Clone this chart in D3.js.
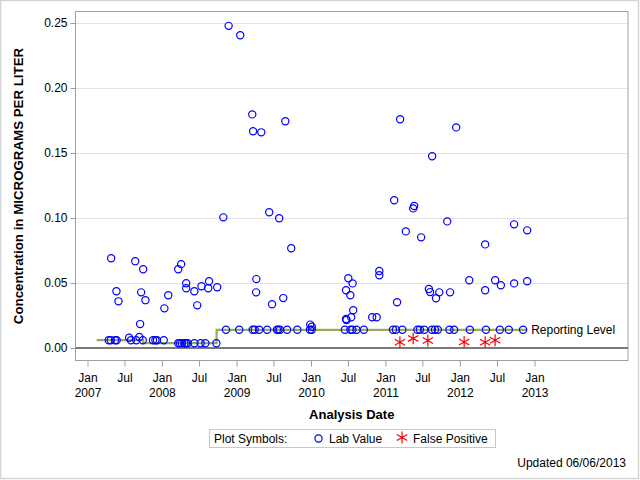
<!DOCTYPE html>
<html>
<head>
<meta charset="utf-8">
<script src="https://cdn.jsdelivr.net/npm/d3@7"></script>
<style>
  html, body { margin: 0; padding: 0; background: #fff; }
  svg { display: block; font-family: "Liberation Sans", Arial, sans-serif; }
</style>
</head>
<body>
<svg id="chart" width="640" height="480"></svg>
<script>
// ---------- DATA ----------
const labDates = [
  "2007-04-15","2007-04-25","2007-04-27","2007-05-16","2007-05-23","2007-05-24","2007-06-02",
  "2007-07-24","2007-08-02","2007-08-23","2007-08-28","2007-09-12","2007-09-16","2007-09-21",
  "2007-09-29","2007-10-01","2007-10-12","2007-11-18","2007-11-30","2007-12-08",
  "2008-01-10","2008-01-13","2008-02-01","2008-03-21","2008-03-21","2008-03-29","2008-04-04",
  "2008-04-08","2008-04-20","2008-04-28","2008-04-29","2008-04-29","2008-05-06","2008-06-08",
  "2008-06-08","2008-06-22","2008-07-09","2008-07-13","2008-08-01","2008-08-15","2008-08-19",
  "2008-09-24","2008-09-28","2008-10-28","2008-11-10","2008-11-23",
  "2009-01-14","2009-01-19","2009-03-19","2009-03-21","2009-03-23","2009-03-31","2009-04-07",
  "2009-04-08","2009-04-22","2009-05-02","2009-05-31","2009-06-10","2009-06-24","2009-07-18",
  "2009-07-25","2009-07-29","2009-08-02","2009-08-18","2009-08-28","2009-09-06","2009-09-26",
  "2009-10-26","2009-12-27","2009-12-28",
  "2010-01-05","2010-01-05","2010-06-16","2010-06-22","2010-06-22","2010-06-24","2010-07-03",
  "2010-07-13","2010-07-13","2010-07-17","2010-07-23","2010-07-24","2010-07-27","2010-08-12",
  "2010-09-17","2010-10-28","2010-11-19","2010-12-02","2010-12-02",
  "2011-02-07","2011-02-13","2011-02-21","2011-02-27","2011-03-14","2011-03-25","2011-04-11",
  "2011-05-17","2011-05-22","2011-06-07","2011-06-19","2011-06-25","2011-07-11","2011-08-02",
  "2011-08-08","2011-08-17","2011-08-18","2011-09-01","2011-09-06","2011-09-15","2011-09-22",
  "2011-10-31","2011-11-11","2011-11-14","2011-12-04","2011-12-14",
  "2012-02-16","2012-02-19","2012-05-04","2012-05-04","2012-05-08","2012-06-22","2012-07-15",
  "2012-07-20","2012-08-28","2012-09-23","2012-09-23","2012-11-06","2012-11-26","2012-11-26"
];
const labValues = [
  0.006,0.006,0.069,0.006,0.0436,0.006,0.0359,
  0.0079,0.006,0.0668,0.006,0.0085,0.0184,0.0428,
  0.006,0.0606,0.0368,0.006,0.006,0.006,
  0.006,0.0305,0.0406,0.0037,0.0606,0.0037,0.0645,
  0.0037,0.0037,0.0037,0.0498,0.046,0.0037,0.0037,
  0.0436,0.0328,0.0037,0.0475,0.0037,0.0459,0.0514,
  0.0037,0.0467,0.1005,0.014,0.2478,
  0.014,0.2406,0.1797,0.014,0.1667,0.014,0.0428,
  0.053,0.014,0.1659,0.014,0.1044,0.0337,0.014,
  0.014,0.0998,0.014,0.0384,0.1744,0.014,0.0767,
  0.014,0.014,0.018,
  0.014,0.0163,0.014,0.0444,0.0223,0.0215,0.0536,
  0.014,0.0406,0.0237,0.014,0.0497,0.029,0.014,
  0.014,0.0237,0.0237,0.0592,0.056,
  0.014,0.1137,0.014,0.0352,0.176,0.014,0.0897,
  0.1074,0.1092,0.014,0.014,0.0851,0.014,0.0454,
  0.043,0.014,0.1475,0.014,0.0383,0.014,0.0428,
  0.0974,0.014,0.0428,0.014,0.1697,
  0.0521,0.014,0.0797,0.0444,0.014,0.0521,0.014,
  0.0483,0.014,0.0951,0.0497,0.014,0.0905,0.0513
];
const fpDates  = ["2011-03-13","2011-05-17","2011-07-28","2012-01-22","2012-05-04","2012-06-22"];
const fpValues = [0.0044,0.0074,0.0058,0.0046,0.0044,0.0059];

const rlDates  = ["2007-02-15","2007-10-01","2008-09-25","2012-11-26"];
const rlValues = [0.006,0.0037,0.014,0.014];

const yTicks = [0, 0.05, 0.10, 0.15, 0.20, 0.25];
const xTickDates = ["2007-01-01","2007-07-01","2008-01-01","2008-07-01","2009-01-01","2009-07-01",
  "2010-01-01","2010-07-01","2011-01-01","2011-07-01","2012-01-01","2012-07-01","2013-01-01"];
const xTickLabels = [["Jan","2007"],["Jul"],["Jan","2008"],["Jul"],["Jan","2009"],["Jul"],
  ["Jan","2010"],["Jul"],["Jan","2011"],["Jul"],["Jan","2012"],["Jul"],["Jan","2013"]];

const yTitle = "Concentration in MICROGRAMS PER LITER";
const xTitle = "Analysis Date";
const legendTitle = "Plot Symbols:";
const legendLab = "Lab Value";
const legendFP = "False Positive";
const rlLabel = "Reporting Level";
const footnote = "Updated 06/06/2013";

// ---------- DRAW ----------
const parse = d3.timeParse("%Y-%m-%d");
const svg = d3.select("#chart");
const W = 640, H = 480;
const frame = {l: 75.5, t: 11.5, r: 628, b: 360.5};

svg.append("rect").attr("x",0).attr("y",0).attr("width",W).attr("height",H).attr("fill","#fff");
svg.append("rect").attr("x",0.5).attr("y",0.5).attr("width",W-2).attr("height",H-2)
  .attr("fill","none").attr("stroke","#d4d4d4").attr("stroke-width",1.5);

const x = d3.scaleTime()
  .domain([parse("2007-01-01"), parse("2013-01-01")])
  .range([87.5, 534.5]);
const y = d3.scaleLinear().domain([0, 0.25]).range([348, 23]);

// gridlines
svg.append("g").selectAll("line").data(yTicks.filter(d => d > 0)).join("line")
  .attr("x1", frame.l).attr("x2", frame.r)
  .attr("y1", d => Math.round(y(d)) + 0.5).attr("y2", d => Math.round(y(d)) + 0.5)
  .attr("stroke", "#e3e3e3").attr("stroke-width", 1);

// frame
svg.append("rect").attr("x", frame.l).attr("y", frame.t)
  .attr("width", frame.r - frame.l).attr("height", frame.b - frame.t)
  .attr("fill", "none").attr("stroke", "#a0a0a0").attr("stroke-width", 1);

// y axis
const yAxis = svg.append("g").attr("transform", `translate(${frame.l},0)`)
  .call(d3.axisLeft(y).tickValues(yTicks).tickFormat(d3.format(".2f")).tickSize(5).tickPadding(3));
yAxis.select(".domain").remove();
yAxis.selectAll(".tick line").attr("stroke", "#a0a0a0");
yAxis.selectAll(".tick text").attr("font-size", 12).attr("fill", "#000")
  .attr("font-family", '"Liberation Sans", Arial, sans-serif');

// x axis
const xAxis = svg.append("g").attr("transform", `translate(0,${frame.b})`)
  .call(d3.axisBottom(x).tickValues(xTickDates.map(parse)).tickSize(6).tickFormat(""));
xAxis.select(".domain").remove();
xAxis.selectAll(".tick line").attr("stroke", "#a0a0a0");
xAxis.selectAll(".tick").each(function(d, i) {
  const t = d3.select(this).append("text")
    .attr("fill", "#000").attr("font-size", 12).attr("text-anchor", "middle")
    .attr("font-family", '"Liberation Sans", Arial, sans-serif');
  xTickLabels[i].forEach((s, k) => {
    t.append("tspan").attr("x", 0).attr("y", 21 + k * 15.5).text(s);
  });
});

// zero reference line
svg.append("line").attr("x1", frame.l).attr("x2", frame.r)
  .attr("y1", y(0)).attr("y2", y(0))
  .attr("stroke", "#7a7a7a").attr("stroke-width", 2);

// reporting level step line
const rl = rlDates.map((d, i) => ({date: parse(d), v: rlValues[i]}));
svg.append("path").datum(rl)
  .attr("d", d3.line().x(d => x(d.date)).y(d => y(d.v)).curve(d3.curveStepAfter))
  .attr("fill", "none").attr("stroke", "#94ad5c").attr("stroke-width", 2.2);

svg.append("text").attr("x", x(rl[rl.length - 1].date) + 4).attr("y", y(0.014) + 4.5)
  .attr("font-size", 12).attr("fill", "#000").text(rlLabel);

// lab values
const lab = labDates.map((d, i) => ({date: parse(d), v: labValues[i]}));
svg.append("g").selectAll("circle").data(lab).join("circle")
  .attr("cx", d => x(d.date)).attr("cy", d => y(d.v)).attr("r", 3.6)
  .attr("fill", "none").attr("stroke", "#0000ff").attr("stroke-width", 1.2);

// false positives
const fp = fpDates.map((d, i) => ({date: parse(d), v: fpValues[i]}));
const star = d3.symbol().type(d3.symbolAsterisk).size(100);
svg.append("g").selectAll("path").data(fp).join("path")
  .attr("transform", d => `translate(${x(d.date)},${y(d.v)})`)
  .attr("d", star).attr("fill", "none").attr("stroke", "#ff0000").attr("stroke-width", 1.2);

// axis titles
svg.append("text").attr("transform", `translate(23,${(frame.t + frame.b) / 2}) rotate(-90)`)
  .attr("text-anchor", "middle").attr("font-size", 13.3).attr("font-weight", "bold")
  .attr("fill", "#000").text(yTitle);
svg.append("text").attr("x", (frame.l + frame.r) / 2).attr("y", 419)
  .attr("text-anchor", "middle").attr("font-size", 13).attr("font-weight", "bold")
  .attr("fill", "#000").text(xTitle);

// legend
const lg = svg.append("g");
lg.append("rect").attr("x", 209.5).attr("y", 429.5).attr("width", 286).attr("height", 18)
  .attr("fill", "#fff").attr("stroke", "#c8c8c8");
lg.append("text").attr("x", 214).attr("y", 443).attr("font-size", 12).attr("fill", "#000").text(legendTitle);
lg.append("circle").attr("cx", 318.5).attr("cy", 438.5).attr("r", 3.6)
  .attr("fill", "none").attr("stroke", "#0000ff").attr("stroke-width", 1.2);
lg.append("text").attr("x", 329).attr("y", 443).attr("font-size", 12).attr("fill", "#000").text(legendLab);
lg.append("path").attr("transform", "translate(402,437.5)").attr("d", star)
  .attr("fill", "none").attr("stroke", "#ff0000").attr("stroke-width", 1.2);
lg.append("text").attr("x", 413).attr("y", 443).attr("font-size", 12).attr("fill", "#000").text(legendFP);

// footnote
svg.append("text").attr("x", 626).attr("y", 467).attr("text-anchor", "end")
  .attr("font-size", 12).attr("fill", "#000").text(footnote);
</script>
</body>
</html>
